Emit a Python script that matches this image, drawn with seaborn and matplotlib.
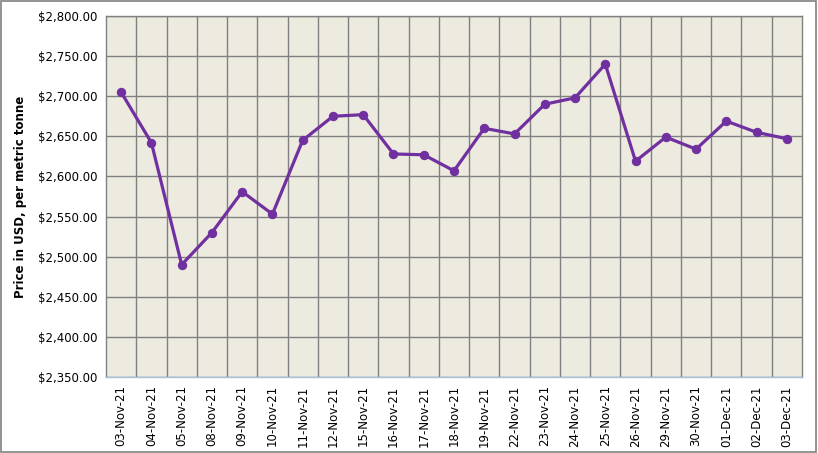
import matplotlib
matplotlib.use('Agg')
import matplotlib.pyplot as plt
import pandas as pd
import seaborn as sns
from matplotlib.patches import Rectangle

dates = ['03-Nov-21', '04-Nov-21', '05-Nov-21', '08-Nov-21', '09-Nov-21', '10-Nov-21',
         '11-Nov-21', '12-Nov-21', '15-Nov-21', '16-Nov-21', '17-Nov-21', '18-Nov-21',
         '19-Nov-21', '22-Nov-21', '23-Nov-21', '24-Nov-21', '25-Nov-21', '26-Nov-21',
         '29-Nov-21', '30-Nov-21', '01-Dec-21', '02-Dec-21', '03-Dec-21']
prices = [2705, 2642, 2490, 2530, 2581, 2553, 2645, 2675, 2677, 2628, 2627, 2607,
          2660, 2653, 2690, 2698, 2740, 2619, 2649, 2634, 2669, 2655, 2647]
y_ticks = [2350, 2400, 2450, 2500, 2550, 2600, 2650, 2700, 2750, 2800]

df = pd.DataFrame({'date': dates, 'price': prices})
df['pos'] = range(len(dates))

sns.set_style('white')
plt.rcParams['font.family'] = ['DejaVu Sans']
plt.rcParams.update({'text.color': 'black', 'axes.labelcolor': 'black',
                     'xtick.color': 'black', 'ytick.color': 'black'})

fig = plt.figure(figsize=(8.18, 4.53), dpi=100)
ax = fig.add_axes([0.1296, 0.1678, 0.8508, 0.7969])
ax.set_facecolor('#EDEAE0')

sns.lineplot(data=df, x='pos', y='price', ax=ax, color='#7030A0', linewidth=2.3,
             marker='o', markersize=6, markeredgecolor='#7030A0')

n = len(dates)
ax.set_xlim(-0.5, n - 0.5)
ax.set_ylim(2350, 2800)
ax.set_xticks(range(n))
ax.set_xticklabels(dates, rotation=90, fontsize=8.5)
ax.set_xticks([i + 0.5 for i in range(n - 1)], minor=True)
ax.set_yticks(y_ticks)
ax.set_yticklabels([f'${v:,.2f}' for v in y_ticks], fontsize=8.5)
ax.grid(which='major', axis='y', color='#808080', linewidth=1)
ax.grid(which='minor', axis='x', color='#808080', linewidth=1)
ax.grid(which='major', axis='x', visible=False)
ax.tick_params(axis='both', which='both', length=0, pad=6, colors='black')
ax.set_xlabel('')
ax.set_ylabel('Price in USD, per metric tonne', fontsize=8.5, fontweight='bold',
              labelpad=8, color='black')
for side in ['top', 'right', 'left']:
    ax.spines[side].set_color('#808080')
    ax.spines[side].set_linewidth(1)
ax.spines['bottom'].set_color('#A9C0DC')
ax.spines['bottom'].set_linewidth(1)

fig.add_artist(Rectangle((0.001, 0.002), 0.997, 0.995, transform=fig.transFigure,
                         fill=False, edgecolor='#808080', linewidth=1.2))

plt.savefig('out.png', dpi=100)
plt.close()
